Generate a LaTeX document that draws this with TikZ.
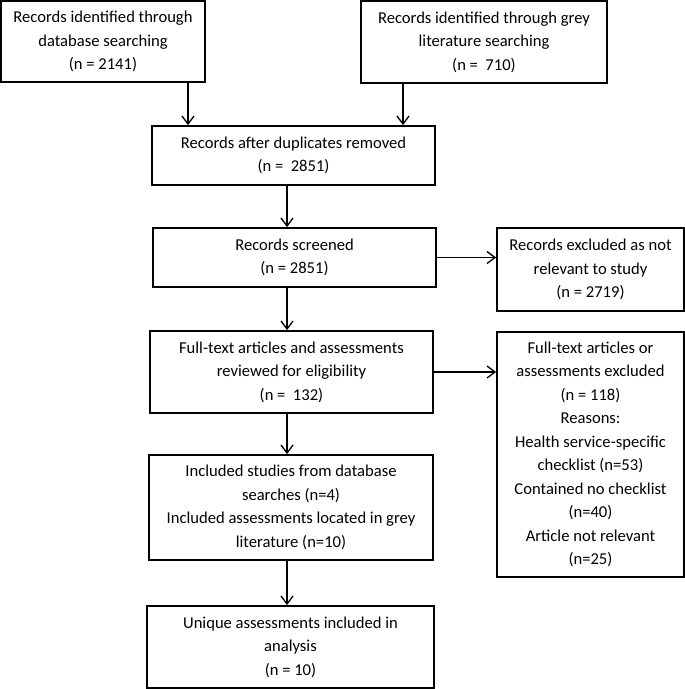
\documentclass[tikz,border=0pt]{standalone}
\usepackage{fontspec}
\setmainfont{Carlito}
\usetikzlibrary{arrows.meta}
\tikzset{
  box/.style={draw,line width=1.3pt,inner sep=0pt,align=center,
    font=\fontsize{12.45}{17.6}\selectfont},
  arr/.style={line width=1pt,-{Straight Barb[length=6pt,width=9pt]}}
}
\begin{document}
\begin{tikzpicture}[x=0.75pt,y=-0.75pt]
   \useasboundingbox (0,0) rectangle (685,689);
   \node[box,minimum width=153pt,minimum height=60.75pt] (db) at (103,41.5)
      {Records identified through\\database searching\\(n = 2141)};
   \node[box,minimum width=184.5pt,minimum height=61.5pt] (grey) at (484,42)
      {Records identified through grey\\literature searching\\(n =\ \ 710)};
   \node[box,minimum width=212.25pt,minimum height=44.25pt] (dup) at (293.5,155.5)
      {Records after duplicates removed\\(n =\ \ 2851)};
   \node[box,minimum width=212.25pt,minimum height=44.25pt] (screen) at (294.5,257.5)
      {Records screened\\(n = 2851)};
   \node[box,minimum width=140.25pt,minimum height=62.25pt] (excl1) at (590.5,269.5)
      {Records excluded as not\\relevant to study\\(n = 2719)};
   \node[box,minimum width=212.25pt,minimum height=61.5pt] (full) at (291.5,372)
      {Full-text articles and assessments\\reviewed for eligibility\\(n =\ \ 132)};
   \node[box,minimum width=140.25pt,minimum height=183.75pt] (excl2) at (590.5,454.5)
      {Full-text articles or\\assessments excluded\\(n = 118)\\Reasons:\\Health service-specific\\checklist (n=53)\\Contained no checklist\\(n=40)\\Article not relevant\\(n=25)};
   \node[box,minimum width=213pt,minimum height=78.75pt] (incl) at (291,507.5)
      {Included studies from database\\searches (n=4)\\Included assessments located in grey\\literature (n=10)};
   \node[box,minimum width=215.25pt,minimum height=61.5pt] (uniq) at (290.5,647)
      {Unique assessments included in\\analysis\\(n = 10)};
   % x positions of the vertical arrows
   \coordinate (xa) at (188,0);
   \coordinate (xb) at (403,0);
   \coordinate (xc) at (287,0);
   \draw[arr] (db.south -| xa) -- (dup.north -| xa);
   \draw[arr] (grey.south -| xb) -- (dup.north -| xb);
   \draw[arr] (dup.south -| xc) -- (screen.north -| xc);
   \draw[arr] (screen.south -| xc) -- (full.north -| xc);
   \draw[arr] (full.south -| xc) -- (incl.north -| xc);
   \draw[arr] (incl.south -| xc) -- (uniq.north -| xc);
   \draw[arr] (screen.east) -- (screen.east -| excl1.west);
   \draw[arr] (full.east) -- (full.east -| excl2.west);
\end{tikzpicture}
\end{document}
